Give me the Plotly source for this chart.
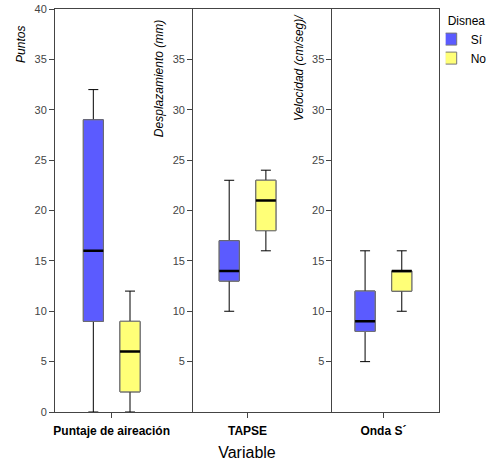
import plotly.graph_objects as go

categories = ["Puntaje de aireación", "TAPSE", "Onda S´"]

si_min = [0, 10, 5]
si_q1 = [9, 13, 8]
si_med = [16, 14, 9]
si_q3 = [29, 17, 12]
si_max = [32, 23, 16]

no_min = [0, 16, 10]
no_q1 = [2, 18, 12]
no_med = [6, 21, 14]
no_q3 = [9, 23, 14]
no_max = [12, 24, 16]

main_ticks = [0, 5, 10, 15, 20, 25, 30, 35, 40]
panel_ticks = [5, 10, 15, 20, 25, 30, 35]

FONT = "Liberation Sans, Arial, sans-serif"
AXC = "#444444"

series = [
    ("Sí", "#5b5bff", si_min, si_q1, si_med, si_q3, si_max),
    ("No", "#ffff77", no_min, no_q1, no_med, no_q3, no_max),
]

fig = go.Figure()
for name, color, mn, q1, med, q3, mx in series:
    # whiskers
    fig.add_trace(go.Box(
        x=categories, q1=q1, median=med, q3=q3, lowerfence=mn, upperfence=mx,
        fillcolor=color, line=dict(color="black", width=1), whiskerwidth=0.5,
        offsetgroup=name, legendgroup=name, showlegend=False, boxpoints=False,
        hoverinfo="skip"))
    # box body with grey outline
    fig.add_trace(go.Box(
        x=categories, q1=q1, median=med, q3=q3, lowerfence=q1, upperfence=q3,
        fillcolor=color, line=dict(color="#777777", width=1), whiskerwidth=0,
        offsetgroup=name, legendgroup=name, name=name, showlegend=True,
        boxpoints=False, hoverinfo="skip"))
    # thick median
    fig.add_trace(go.Box(
        x=categories, q1=med, median=med, q3=med, lowerfence=med, upperfence=med,
        fillcolor="rgba(0,0,0,0)", line=dict(color="black", width=2.5), whiskerwidth=0,
        offsetgroup=name, legendgroup=name, showlegend=False, boxpoints=False,
        hoverinfo="skip"))

# dummy traces so the panel axes are drawn
for ax in ["y2", "y3"]:
    fig.add_trace(go.Scatter(x=[categories[0]], y=[None], yaxis=ax, mode="markers",
                             showlegend=False, hoverinfo="skip"))

x0, x1 = 55, 439.3
div1, div2 = 192.3, 331.7
pos1 = (div1 - x0) / (x1 - x0)
pos2 = (div2 - x0) / (x1 - x0)

yax_common = dict(range=[0, 40], showgrid=False, zeroline=False,
                  ticks="outside", ticklen=5, tickcolor=AXC, tickwidth=1,
                  showline=True, linecolor=AXC, linewidth=1,
                  tickfont=dict(family=FONT, size=11, color="#444444"))

fig.update_layout(
    width=489, height=464,
    margin=dict(l=55, r=50, t=9, b=52, autoexpand=False),
    paper_bgcolor="white", plot_bgcolor="white",
    boxmode="group", boxgap=0.46, boxgroupgap=0.456,
    font=dict(family=FONT, color="black"),
    xaxis=dict(type="category", range=[-0.417, 2.409], showgrid=False,
               ticks="outside", ticklen=5, tickcolor=AXC, ticklabelstandoff=3,
               showline=True, linecolor=AXC, linewidth=1, mirror=True,
               tickfont=dict(family=FONT, size=12, color="black", weight="bold"),
               title=dict(text="Variable", font=dict(family=FONT, size=16), standoff=9)),
    yaxis=dict(**yax_common, tickvals=main_ticks, mirror=True),
    yaxis2=dict(**yax_common, tickvals=panel_ticks, overlaying="y", anchor="free",
                position=pos1, side="left"),
    yaxis3=dict(**yax_common, tickvals=panel_ticks, overlaying="y", anchor="free",
                position=pos2, side="left"),
    legend=dict(x=(446 - x0) / (x1 - x0), y=1.0, xanchor="left", yanchor="top",
                title=dict(text="Disnea", font=dict(family=FONT, size=12)),
                font=dict(family=FONT, size=12), tracegroupgap=0, indentation=-15,
                bgcolor="rgba(0,0,0,0)"),
)

ph = 412 - 9.3
def py(px):
    return (412 - px) / ph
def pxr(px):
    return (px - x0) / (x1 - x0)

for text, xc, ytop in [("Puntos", 20.7, 24), ("Desplazamiento (mm)", 159, 18),
                       ("Velocidad (cm/seg)/", 299, 12)]:
    fig.add_annotation(text="<i>" + text + "</i>", x=pxr(xc), y=py(ytop),
                       xref="paper", yref="paper", xanchor="center", yanchor="top",
                       textangle=-90, showarrow=False,
                       font=dict(family=FONT, size=12, color="black"))

fig.write_html("out.html", config={"displayModeBar": False},
               post_script="document.body.style.margin='0';")
